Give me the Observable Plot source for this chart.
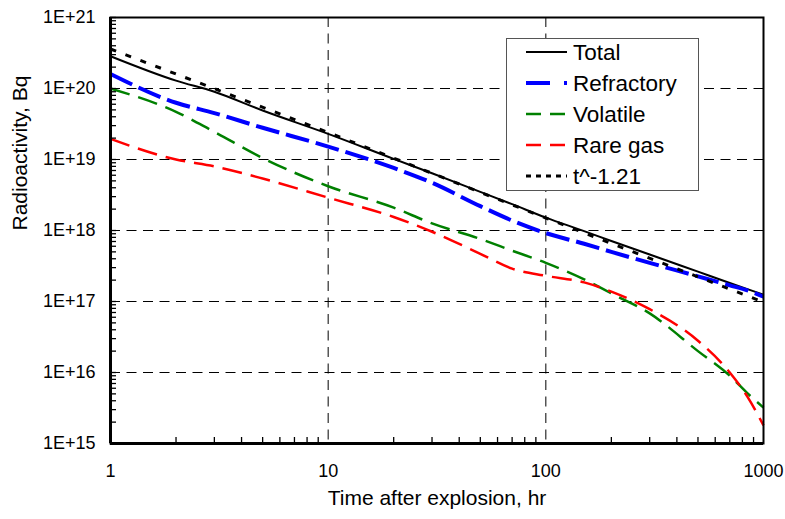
<!DOCTYPE html>
<html><head><meta charset="utf-8">
<script src="https://cdn.jsdelivr.net/npm/d3@7"></script>
<script src="https://cdn.jsdelivr.net/npm/@observablehq/plot@0.6"></script>
<style>
body{margin:0;background:#fff;}
#chart{width:785px;height:519px;}
</style></head><body><div id="chart"></div>
<script>
// ---- data ----
const time = [1,2,3,5,10,20,30,50,70,100,150,200,300,500,700,850,1000];
const total = [2.85e20,1.29e20,9.0e19,4.9e19,2.3e19,1.02e19,6.4e18,3.5e18,2.35e18,1.52e18,9.8e17,7.1e17,4.6e17,2.63e17,1.82e17,1.48e17,1.25e17];
const refractory = [1.6e20,6.3e19,4.5e19,2.8e19,1.52e19,7.6e18,4.7e18,2.2e18,1.38e18,9.2e17,6.5e17,5.0e17,3.5e17,2.26e17,1.69e17,1.42e17,1.17e17];
const volatile = [1.0e20,4.7e19,2.45e19,1.05e19,4.2e18,2.1e18,1.26e18,7.6e17,5.2e17,3.5e17,2.05e17,1.3e17,6.8e16,2.0e16,9.0e15,5.0e15,3.2e15];
const rareGas = [1.95e19,1.0e19,8.0e18,5.4e18,2.9e18,1.55e18,9.6e17,4.7e17,2.9e17,2.3e17,1.86e17,1.38e17,7.8e16,2.8e16,1.0e16,4.4e15,1.8e15];
const fitTime = [1,10,100,1000];
const fitValues = [3.6e20,2.4e19,1.5e18,9.8e16];
const seriesNames = ["Total","Refractory","Volatile","Rare gas","t^-1.21"];
const xTicks = [1,10,100,1000];
const xTickLabels = ["1","10","100","1000"];
const yTicks = [1e15,1e16,1e17,1e18,1e19,1e20,1e21];
const yTickLabels = ["1E+15","1E+16","1E+17","1E+18","1E+19","1E+20","1E+21"];
const minorX = [2,3,4,5,6,7,8,9,20,30,40,50,60,70,80,90,200,300,400,500,600,700,800,900];
const minorY = [];
for (let e = 15; e < 21; e++) for (let m = 2; m <= 9; m++) minorY.push(m * Math.pow(10, e));
const xTitle = "Time after explosion, hr";
const yTitle = "Radioactivity, Bq";

// ---- styles ----
const styles = {
  "Total":      {stroke:"#000000", width:2,   dash:null,    legendDash:null},
  "Refractory": {stroke:"#0000ff", width:4,   dash:"24,7",  legendDash:"24,14,3,20"},
  "Volatile":   {stroke:"#008000", width:2.5, dash:"20,9",  legendDash:"15,9"},
  "Rare gas":   {stroke:"#ff0000", width:2.5, dash:"20,9",  legendDash:"15,9"},
  "t^-1.21":    {stroke:"#000000", width:3,   dash:"6,10",  legendDash:"5,5"}
};

const W = 785, H = 519, mL = 110, mR = 22, mT = 17, mB = 76;
const frameW = W - mL - mR, frameH = H - mT - mB, tickLen = 6;

const seriesValues = [total, refractory, volatile, rareGas];
const rows = [];
seriesValues.forEach((vals, s) => vals.forEach((v, i) => rows.push({series: seriesNames[s], t: time[i], v})));
fitTime.forEach((t, i) => rows.push({series: seriesNames[4], t, v: fitValues[i]}));

const font = "'Liberation Sans', Arial, sans-serif";
const gridDash = "10,6.5";

const lineMarks = seriesNames.map(name => {
  const st = styles[name];
  return Plot.line(rows.filter(r => r.series === name), {
    x: "t", y: "v", stroke: st.stroke, strokeWidth: st.width,
    strokeDasharray: st.dash, curve: "monotone-x", strokeLinecap: "butt"
  });
});

const plot = Plot.plot({
  width: W, height: H,
  marginLeft: mL, marginRight: mR, marginTop: mT, marginBottom: mB,
  style: {fontFamily: font, fontSize: "18px", color: "#000", background: "#fff"},
  x: {type: "log", domain: [1, 1000], label: null},
  y: {type: "log", domain: [1e15, 1e21], label: null},
  marks: [
    Plot.gridX(xTicks.slice(1, -1), {stroke: "#000", strokeOpacity: 1, strokeWidth: 1, strokeDasharray: gridDash}),
    Plot.gridY(yTicks.slice(1, -1), {stroke: "#000", strokeOpacity: 1, strokeWidth: 1, strokeDasharray: gridDash}),
    Plot.axisX(xTicks, {tickSize: 0, tickPadding: 21, fontSize: 18, label: null,
      tickFormat: d => xTickLabels[xTicks.indexOf(d)]}),
    Plot.axisY(yTicks, {tickSize: 0, tickPadding: 15, fontSize: 18, label: null,
      tickFormat: d => yTickLabels[yTicks.indexOf(d)]}),
    ...lineMarks,
    Plot.frame({stroke: "#000", strokeWidth: 2}),
    Plot.ruleX([1], {stroke: "#000", strokeWidth: 3}),
    Plot.ruleY([1e15], {stroke: "#000", strokeWidth: 3}),
    // minor ticks pointing inward from the bottom and left axes
    Plot.tickX(minorX, {x: d => d, insetTop: frameH - tickLen, stroke: "#000", strokeWidth: 1.3}),
    Plot.tickY(minorY.concat(yTicks), {y: d => d, insetRight: frameW - tickLen, stroke: "#000", strokeWidth: 1.3}),
    Plot.text([xTitle], {text: d => d, frameAnchor: "bottom", dy: 61, fontSize: 21, fill: "#000"}),
    Plot.text([yTitle], {text: d => d, frameAnchor: "left", dx: -90, rotate: -90, fontSize: 21, fill: "#000"})
  ]
});

document.getElementById("chart").appendChild(plot);

// ---- legend inside the plot area ----
const svg = d3.select(plot);
const lg = svg.append("g").attr("class", "legend");
const box = {x: 506, y: 38, w: 192, h: 152};
lg.append("rect").attr("x", box.x + 0.5).attr("y", box.y + 0.5).attr("width", box.w).attr("height", box.h)
  .attr("fill", "#fff").attr("stroke", "#555").attr("stroke-width", 1);
seriesNames.forEach((name, i) => {
  const st = styles[name];
  const cy = 52 + i * 31;
  lg.append("line").attr("x1", 526).attr("x2", 567).attr("y1", cy).attr("y2", cy)
    .attr("stroke", st.stroke).attr("stroke-width", st.width)
    .attr("stroke-dasharray", st.legendDash);
  lg.append("text").attr("x", 573).attr("y", cy).attr("dy", "0.35em")
    .attr("text-anchor", "start")
    .attr("font-family", font).attr("font-size", 22.5).attr("fill", "#000").text(name);
});
</script>
</body></html>
